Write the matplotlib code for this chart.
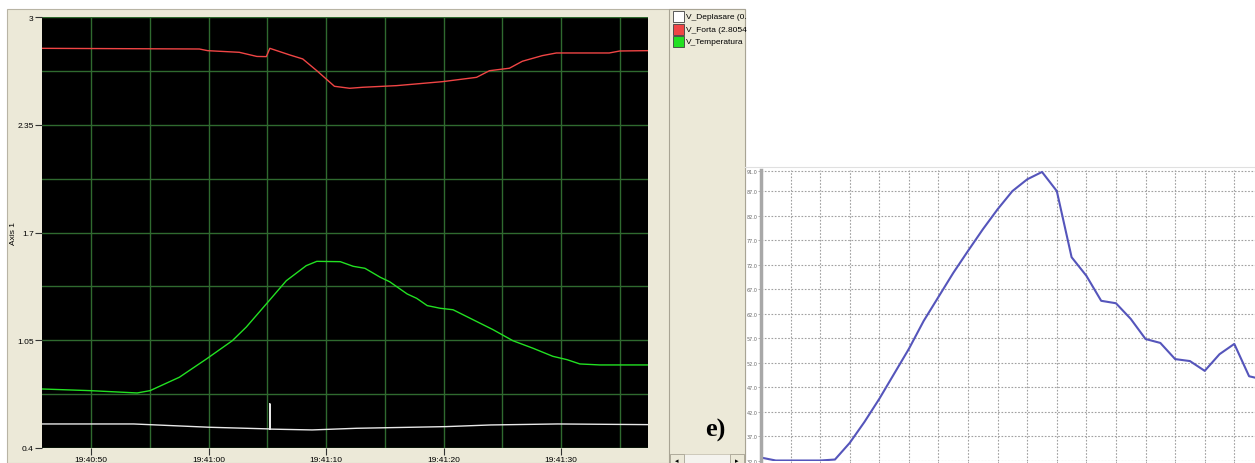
import numpy as np
import matplotlib.pyplot as plt
from matplotlib.patches import Rectangle

# left panel: seconds after 19:40:50
forta_t = [-4.2, 9.2, 9.9, 12.6, 14.1, 14.9, 15.2, 16.9, 18.0, 19.2, 20.0, 20.7, 22.0, 23.1,
           26.0, 29.9, 32.8, 33.9, 35.6, 36.7, 38.4, 39.6, 44.1, 45.0, 47.4]
forta_v = [2.811, 2.807, 2.797, 2.787, 2.762, 2.761, 2.811, 2.771, 2.747, 2.676, 2.626, 2.582,
           2.570, 2.576, 2.586, 2.610, 2.636, 2.676, 2.691, 2.733, 2.767, 2.783, 2.783, 2.795, 2.797]

temp_t = [-4.2, -0.1, 3.9, 5.0, 7.5, 9.8, 12.0, 13.2, 14.9, 16.6, 18.3, 19.2, 21.2, 22.3, 23.3,
          24.6, 25.4, 26.9, 27.7, 28.6, 29.7, 30.8, 32.5, 34.2, 35.9, 37.6, 39.3, 40.5, 41.6,
          43.3, 47.4]
temp_v = [0.756, 0.746, 0.732, 0.746, 0.827, 0.937, 1.047, 1.130, 1.269, 1.409, 1.500, 1.526,
          1.524, 1.496, 1.484, 1.430, 1.403, 1.329, 1.303, 1.259, 1.243, 1.234, 1.174, 1.114,
          1.047, 1.002, 0.953, 0.933, 0.907, 0.901, 0.901]

depl_t = [-4.2, 3.6, 10.1, 15.2, 15.2, 15.2, 18.8, 22.6, 30.2, 34.0, 39.7, 47.4]
depl_v = [0.545, 0.545, 0.525, 0.515, 0.666, 0.514, 0.509, 0.519, 0.529, 0.539, 0.545, 0.541]

time_ticks = [0, 10, 20, 30, 40]
time_labels = ['19:40:50', '19:41:00', '19:41:10', '19:41:20', '19:41:30']
axis_ticks = [0.4, 1.05, 1.7, 2.35, 3.0]
axis_labels = ['0.4', '1.05', '1.7', '2.35', '3']

legend_names = ['V_Deplasare (0.', 'V_Forta (2.8054', 'V_Temperatura']
legend_colors = ['white', '#f04545', '#22e022']

# right panel
e_idx = list(range(35))
e_val = [32.6, 32.0, 32.0, 32.0, 32.0, 32.2, 35.6, 39.9, 44.6, 49.7, 54.8, 60.5, 65.4, 70.3,
         74.8, 79.2, 83.3, 87.0, 89.4, 90.9, 87.0, 73.5, 69.7, 64.6, 64.1, 60.9, 56.8, 56.0,
         52.7, 52.3, 50.3, 53.7, 55.8, 49.2, 48.5]
e_ticks = [32.0, 37.0, 42.0, 47.0, 52.0, 57.0, 62.0, 67.0, 72.0, 77.0, 82.0, 87.0, 91.0]

W, H = 1255, 464
fig = plt.figure(figsize=(W / 100, H / 100), dpi=100)
fig.patch.set_facecolor('white')


def box(x0, y0, x1, y1, z=1, **kw):
    # pixel box, y measured from the top
    fig.patches.append(Rectangle((x0 / W, 1 - y1 / H), (x1 - x0) / W, (y1 - y0) / H,
                                 transform=fig.transFigure, zorder=z, **kw))


box(7, 10, 745, 464, z=-10, facecolor='#ece9d8', edgecolor='#b8b4a4', lw=0.8)
box(669, 10, 745, 470, z=-9, facecolor='#ece9d8', edgecolor='#a8a494', lw=0.8)
# scrollbar
box(670, 455, 744, 470, facecolor='#f4f3ee', edgecolor='#c8c4b4', lw=0.6)
box(670, 455, 684, 470, facecolor='#ece9d8', edgecolor='#a8a494', lw=0.6)
box(730, 455, 744, 470, facecolor='#ece9d8', edgecolor='#a8a494', lw=0.6)
fig.text(677 / W, 1 - 461 / H, '◂', fontsize=5, ha='center', va='center')
fig.text(737 / W, 1 - 461 / H, '▸', fontsize=5, ha='center', va='center')

for i, (name, col) in enumerate(zip(legend_names, legend_colors)):
    yc = 17.5 + i * 12.5
    box(673, yc - 5.5, 684, yc + 5.5, facecolor=col, edgecolor='#404040', lw=0.6)
    fig.text(686 / W, 1 - yc / H, name, fontsize=6, family='Liberation Sans',
             ha='left', va='center', color='black')

ax = fig.add_axes([42 / W, 1 - 449 / H, 606 / W, 431 / H])
ax.set_facecolor('black')
ax.plot(forta_t, forta_v, color=legend_colors[1], lw=1)
ax.plot(temp_t, temp_v, color=legend_colors[2], lw=1)
ax.plot(depl_t, depl_v, color='#e8e8e8', lw=1)
ax.set_xlim(-4.2, 47.4)
ax.set_ylim(0.4, 3.0)
ax.set_xticks(time_ticks, time_labels)
ax.set_yticks(axis_ticks, axis_labels)
ax.set_xticks(np.arange(-0, 47, 5), minor=True)
ax.set_yticks(np.arange(0.4, 3.01, 0.325), minor=True)
ax.set_axisbelow(True)
ax.grid(True, which='both', color='#2f6a2f', lw=1)
ax.tick_params(which='minor', length=0)
ax.tick_params(which='major', length=5, width=0.8, color='#333333', labelsize=6, pad=1)
for lab in ax.get_xticklabels() + ax.get_yticklabels():
    lab.set_family('Liberation Sans')
for s in ax.spines.values():
    s.set_visible(False)
ax.set_ylabel('Axis 1', fontsize=6, family='Liberation Sans')
ax.yaxis.set_label_coords(-25 / 606, 0.5)

fig.text(715 / W, 1 - 430 / H, 'e)', fontsize=19, family='Liberation Serif',
         weight='bold', ha='center', va='center')

ax2 = fig.add_axes([761 / W, 1 - 462 / H, (W - 761) / W, 291 / H])
ax2.plot(e_idx, e_val, color='#5555bb', lw=1.5)
ax2.set_xlim(0, 33.4)
ax2.set_ylim(31.9, 91.3)
ax2.set_yticks(e_ticks, [f'{v:.1f}' for v in e_ticks])
ax2.set_xticks(np.arange(0, 34, 2), [])
ax2.set_axisbelow(True)
ax2.grid(True, color='#a0a0a0', lw=0.8, ls=(0, (1.5, 1.5)))
ax2.tick_params(length=2, width=0.6, color='#a0a0a0', labelsize=3.5, labelcolor='#666666', pad=0.5)
for k in ['top', 'right', 'bottom']:
    ax2.spines[k].set_visible(False)
ax2.spines['left'].set_color('#a8a8a8')
ax2.spines['left'].set_linewidth(2.5)
fig.lines.append(plt.Line2D([745 / W, 1], [1 - 168 / H] * 2, transform=fig.transFigure,
                            color='#e0e0e0', lw=0.8))

fig.savefig('out.png', dpi=100)
